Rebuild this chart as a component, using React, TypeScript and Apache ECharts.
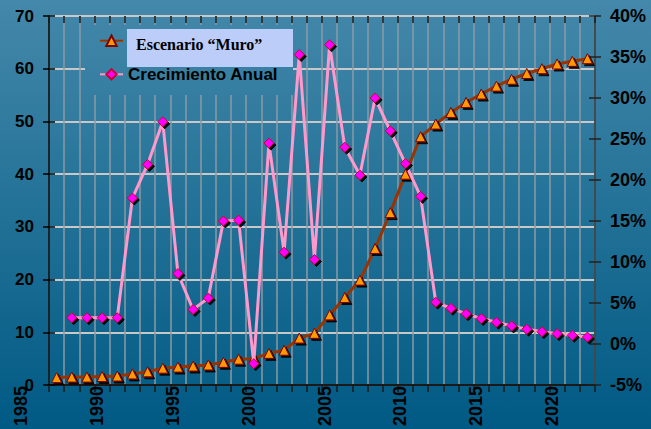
import React, { useEffect, useRef } from 'react';
import * as echarts from 'echarts';

// ---- data ----
const years = [
  '1987', '1988', '1989', '1990', '1991', '1992', '1993', '1994', '1995', '1996',
  '1997', '1998', '1999', '2000', '2001', '2002', '2003', '2004', '2005', '2006',
  '2007', '2008', '2009', '2010', '2011', '2012', '2013', '2014', '2015', '2016',
  '2017', '2018', '2019', '2020', '2021', '2022',
];
const muroValues = [
  1.4, 1.5, 1.5, 1.6, 1.7, 2.1, 2.5, 3.2, 3.4, 3.6,
  3.8, 4.3, 4.9, 5.0, 6.0, 6.6, 8.9, 9.8, 13.3, 16.6,
  19.9, 25.9, 32.7, 40.0, 47.1, 49.5, 51.7, 53.6, 55.2, 56.7,
  58.0, 59.1, 60.0, 60.9, 61.4, 61.9,
];
const growthValues: (number | null)[] = [
  null, 3.2, 3.2, 3.2, 3.2, 17.8, 21.9, 27.1, 8.6, 4.2,
  5.6, 15.0, 15.1, -2.4, 24.5, 11.2, 35.3, 10.3, 36.5, 24.0,
  20.6, 30.0, 26.0, 22.0, 18.0, 5.1, 4.35, 3.7, 3.1, 2.65,
  2.2, 1.8, 1.5, 1.26, 1.06, 0.85,
];
const yearTickLabels = ['1985', '1990', '1995', '2000', '2005', '2010', '2015', '2020'];
const seriesNames = ['Escenario \u201cMuro\u201d', 'Crecimiento Anual'];
const boxTitle = 'Escenario \u201cMuro\u201d';

const FONT = '"Liberation Sans", Arial, sans-serif';

export default function App() {
  const ref = useRef<HTMLDivElement>(null);

  useEffect(() => {
    if (!ref.current) return;
    const chart = echarts.init(ref.current, null, { renderer: 'svg' });

    const W = 651;
    const H = 429;
    const plotLeft = 49;
    const plotRight = 595;
    const plotTop = 16;
    const plotBottom = 385;
    const band = (plotRight - plotLeft) / years.length;
    const firstYear = Number(years[0]);
    const labelShift = -5;
    const labMin = 1985;
    const labMax = 2025;
    const pxOfYear = (y: number) => plotLeft + band / 2 + (y - firstYear) * band + labelShift;
    const labLeft = pxOfYear(labMin);
    const labRight = W - pxOfYear(labMax);

    const bgGrad = new echarts.graphic.LinearGradient(
      0, 0, 0, H,
      [
        { offset: 0, color: '#4488aa' },
        { offset: 1, color: '#005a84' },
      ],
      true
    );

    const labelStyle = { color: '#000', fontSize: 17, fontWeight: 'bold' as const, fontFamily: FONT };

    chart.setOption({
      animation: false,
      backgroundColor: 'transparent',
      grid: [
        { left: plotLeft, right: W - plotRight, top: plotTop, bottom: H - plotBottom, containLabel: false },
        { left: labLeft, right: labRight, top: plotTop, bottom: H - plotBottom, containLabel: false },
      ],
      xAxis: [
        {
          type: 'category',
          gridIndex: 0,
          data: years,
          boundaryGap: true,
          axisLine: { show: true, onZero: false, lineStyle: { color: '#1a1a1a', width: 2 } },
          axisTick: { show: true, interval: 0, length: 7, lineStyle: { color: '#1a1a1a', width: 1.5 } },
          axisLabel: { show: false },
          splitLine: { show: true, interval: 0, lineStyle: { color: '#8c9aa4', width: 1.5 } },
        },
        {
          type: 'value',
          gridIndex: 1,
          min: labMin,
          max: labMax,
          interval: 5,
          axisLine: { show: false, onZero: false },
          axisTick: { show: false },
          splitLine: { show: false },
          axisLabel: {
            ...labelStyle,
            fontSize: 18,
            rotate: 90,
            margin: 3,
            showMinLabel: true,
            showMaxLabel: true,
            formatter: (v: number) => (yearTickLabels.includes(String(v)) ? String(v) : ''),
          },
        },
        {
          type: 'category',
          gridIndex: 0,
          data: years,
          boundaryGap: true,
          axisLine: { show: false, onZero: false },
          axisTick: { show: true, inside: true, interval: 0, length: 7, lineStyle: { color: '#1a1a1a', width: 1.5 } },
          axisLabel: { show: false },
          splitLine: { show: false },
        },
      ],
      yAxis: [
        {
          type: 'value',
          gridIndex: 0,
          position: 'left',
          min: 0,
          max: 70,
          interval: 10,
          axisLine: { show: true, onZero: false, lineStyle: { color: '#000', width: 1.5 } },
          axisTick: { show: true, length: 6, lineStyle: { color: '#000', width: 1.5 } },
          axisLabel: { ...labelStyle, margin: 15 },
          splitLine: { show: true, lineStyle: { color: '#c8c8c8', width: 2 } },
        },
        {
          type: 'value',
          gridIndex: 0,
          position: 'right',
          min: -5,
          max: 40,
          interval: 5,
          axisLine: { show: true, onZero: false, lineStyle: { color: '#333', width: 1.5 } },
          axisTick: { show: true, length: 6, lineStyle: { color: '#222', width: 1.5 } },
          axisLabel: { ...labelStyle, fontSize: 18, margin: 15, formatter: '{value}%' },
          splitLine: { show: false },
        },
        {
          type: 'value',
          gridIndex: 1,
          min: 0,
          max: 1,
          show: false,
        },
        {
          type: 'value',
          gridIndex: 0,
          position: 'left',
          min: 0,
          max: 70,
          interval: 10,
          axisLine: { show: false, onZero: false },
          axisTick: { show: true, inside: true, length: 6, lineStyle: { color: '#000', width: 1.5 } },
          axisLabel: { show: false },
          splitLine: { show: false },
        },
        {
          type: 'value',
          gridIndex: 0,
          position: 'right',
          min: -5,
          max: 40,
          interval: 5,
          axisLine: { show: false, onZero: false },
          axisTick: { show: true, inside: true, length: 6, lineStyle: { color: '#222', width: 1.5 } },
          axisLabel: { show: false },
          splitLine: { show: false },
        },
      ],
      legend: {
        orient: 'vertical',
        left: 85,
        top: 25,
        padding: [5.7, 14, 10.7, 14],
        itemWidth: 23,
        itemHeight: 13,
        itemGap: 13.6,
        data: seriesNames,
        formatter: (name: string) => (name === seriesNames[0] ? ' ' : name),
        textStyle: { color: '#000', fontSize: 17, fontWeight: 'bold', fontFamily: FONT, lineHeight: 20 },
      },
      graphic: [
        {
          type: 'rect',
          z: 1,
          silent: true,
          shape: { x: 85, y: 25, width: 208, height: 70 },
          style: { fill: bgGrad },
        },
        {
          type: 'rect',
          z: 100,
          silent: true,
          shape: { x: 127, y: 29, width: 166, height: 38 },
          style: { fill: '#bccdf9' },
        },
        {
          type: 'text',
          z: 101,
          silent: true,
          x: 136,
          y: 44.5,
          style: {
            text: boxTitle,
            font: 'bold 16px "Liberation Serif", "Times New Roman", serif',
            fill: '#000',
            verticalAlign: 'middle',
          },
        },
      ],
      series: [
        {
          name: seriesNames[0],
          type: 'line',
          xAxisIndex: 0,
          yAxisIndex: 0,
          data: muroValues,
          symbol: 'triangle',
          symbolSize: 10,
          showSymbol: true,
          showAllSymbol: true,
          lineStyle: { color: '#993300', width: 3 },
          itemStyle: {
            color: '#ff9900',
            borderColor: '#800000',
            borderWidth: 1,
            shadowColor: 'rgba(0,0,0,0.9)',
            shadowOffsetX: 2,
            shadowOffsetY: 2,
            shadowBlur: 1,
          },
          z: 2,
        },
        {
          name: seriesNames[1],
          type: 'line',
          xAxisIndex: 0,
          yAxisIndex: 1,
          data: growthValues.map((v) => (v === null ? '-' : v)),
          symbol: 'diamond',
          symbolSize: 10,
          showSymbol: true,
          showAllSymbol: true,
          lineStyle: { color: '#ff99cc', width: 3 },
          itemStyle: {
            color: '#ff00ff',
            borderColor: '#cc0033',
            borderWidth: 1,
            shadowColor: 'rgba(0,0,0,0.9)',
            shadowOffsetX: 2,
            shadowOffsetY: 2,
            shadowBlur: 1,
          },
          z: 3,
        },
      ],
    });

    return () => {
      chart.dispose();
    };
  }, []);

  return (
    <div
      ref={ref}
      style={{
        position: 'fixed',
        left: 0,
        top: 0,
        width: 651,
        height: 429,
        background: 'linear-gradient(to bottom, #4488aa, #005a84)',
      }}
    />
  );
}
